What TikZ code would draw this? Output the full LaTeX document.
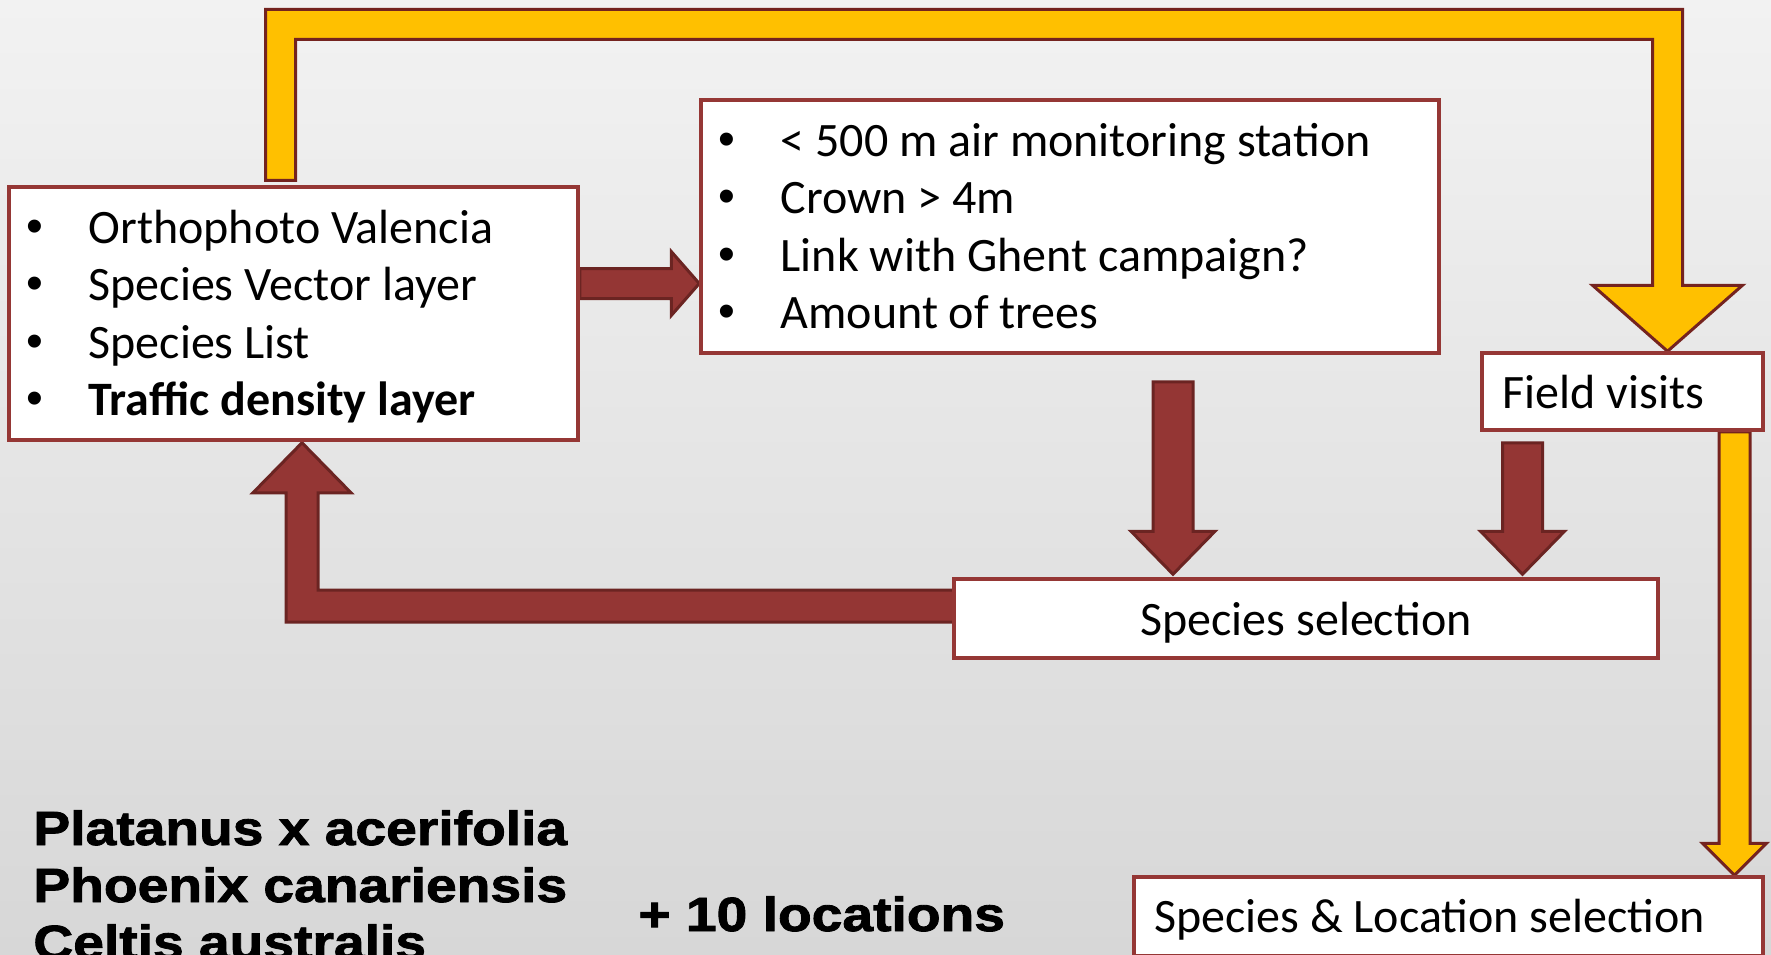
\documentclass[tikz,border=0pt]{standalone}
\usepackage{fontspec}
\setmainfont{Carlito}
\newfontfamily\heavyfont[FakeBold=1.8,FakeStretch=1.15]{Liberation Sans}
\newfontfamily\bulletfont{Liberation Sans}
\usetikzlibrary{calc}

\definecolor{boxred}{HTML}{953735}
\definecolor{arrowred}{HTML}{943634}
\definecolor{arrowedge}{HTML}{6B2422}
\definecolor{gold}{HTML}{FFC000}
\definecolor{goldedge}{HTML}{74231F}
\definecolor{bgtop}{HTML}{F2F2F2}
\definecolor{bgbottom}{HTML}{D7D7D7}

\pgfdeclarelayer{backdrop}
\pgfdeclarelayer{arrows}
\pgfsetlayers{backdrop,arrows,main}

\tikzset{
  stepbox/.style={draw=boxred, line width=1.75pt, fill=white, inner sep=0pt},
  item/.style={anchor=base west, inner sep=0pt, font=\fontsize{24}{28}\selectfont},
  label/.style={anchor=base, inner sep=0pt, font=\fontsize{24}{28}\selectfont},
  dot/.style={anchor=base, inner sep=0pt, font=\bulletfont\fontsize{24}{28}\selectfont},
  redblock/.style={fill=arrowred, draw=arrowedge, line width=1.5pt},
  goldblock/.style={fill=gold, draw=goldedge, line width=1.5pt},
  species/.style={anchor=base west, inner sep=0pt, font=\heavyfont\bfseries\fontsize{24}{28}\selectfont}
}

\begin{document}
\begin{tikzpicture}[x=0.5pt, y=-0.5pt]
        \useasboundingbox (0,0) rectangle (1771,954);
        \begin{pgfonlayer}{backdrop}
            \shade[top color=bgtop, bottom color=bgbottom] (0,0) rectangle (1771,954);
        \end{pgfonlayer}

        % Boxes
        \node[stepbox, minimum width=284.5pt, minimum height=126.5pt] (src) at (293.5,313.5) {};
        \node[stepbox, minimum width=369pt, minimum height=126.5pt] (crit) at (1070,226.5) {};
        \node[stepbox, minimum width=140.5pt, minimum height=38.5pt] (visits) at (1622.5,391.5) {};
        \node[stepbox, minimum width=352pt, minimum height=39.5pt] (sel) at (1306,618.5) {};
        \node[stepbox, minimum width=314.5pt, minimum height=39.5pt] (loc) at (1448.5,916.5) {};

        % Bullet lists
        \foreach \txt [count=\i] in {Orthophoto Valencia, Species Vector layer, Species List, \textbf{Traffic density layer}} {
            \node[dot] (srcdot\i) at ($(src.north west)+(28,57+57.5*\i-57.5)$) {\textbullet};
            \node[item] (srcitem\i) at ($(src.north west)+(81,58+57.5*\i-57.5)$) {\txt};
        };
        \foreach \txt [count=\i] in {< 500 m air monitoring station, Crown > 4m, Link with Ghent campaign?, Amount of trees} {
            \node[dot] (critdot\i) at ($(crit.north west)+(28,57+57.5*\i-57.5)$) {\textbullet};
            \node[item] (crititem\i) at ($(crit.north west)+(81,58+57.5*\i-57.5)$) {\txt};
        };

        % Single labels
        \node[item] (visitstext) at ($(visits.north west)+(22,57)$) {Field visits};
        \node[label] (seltext) at ($(sel.north)+(0,58)$) {Species selection};
        \node[item] (loctext) at ($(loc.north west)+(21.5,57)$) {Species \& Location selection};

        % Species list bottom left
        \node[species] (plat) at (33,845) {Platanus x acerifolia};
        \node[species] (phoe) at (33,902) {Phoenix canariensis};
        \node[species] (celt) at (33,959) {Celtis australis};
        \node[species] (more) at (638,931) {+ 10 locations};

        \begin{pgfonlayer}{arrows}
        % Red arrow src -> crit
        \coordinate (ab1) at ($(src.east)+(0,-30)$);
        \coordinate (ab2) at (crit.west |- ab1);
        \draw[redblock] ($(ab1)+(0,-15)$) -- ($(ab2)+(-28,-15)$) -- ($(ab2)+(-28,-32)$) -- (ab2)
            -- ($(ab2)+(-28,32)$) -- ($(ab2)+(-28,15)$) -- ($(ab1)+(0,15)$) -- cycle;

        % Red arrows down to selection
        \coordinate (cs1) at ($(crit.south)+(103,27)$);
        \coordinate (cs2) at ($(cs1 |- sel.north)+(0,-3)$);
        \draw[redblock] ($(cs1)+(-20,0)$) -- ($(cs2)+(-20,-43)$) -- ($(cs2)+(-42,-43)$) -- (cs2)
            -- ($(cs2)+(42,-43)$) -- ($(cs2)+(20,-43)$) -- ($(cs1)+(20,0)$) -- cycle;
        \coordinate (vs1) at ($(visits.south)+(-100,11)$);
        \coordinate (vs2) at ($(vs1 |- sel.north)+(0,-3)$);
        \draw[redblock] ($(vs1)+(-20,0)$) -- ($(vs2)+(-20,-43)$) -- ($(vs2)+(-42,-43)$) -- (vs2)
            -- ($(vs2)+(42,-43)$) -- ($(vs2)+(20,-43)$) -- ($(vs1)+(20,0)$) -- cycle;

        % Red bent arrow sel -> src
        \coordinate (sl1) at ($(sel.west)+(4,-12.5)$);
        \coordinate (sl3) at ($(src.south)+(8.5,1)$);
        \coordinate (sl2) at (sl3 |- sl1);
        \draw[redblock] ($(sl1)+(0,-16)$) -- ($(sl2)+(16,-16)$) -- ($(sl3)+(16,50)$) -- ($(sl3)+(49,50)$) -- (sl3)
            -- ($(sl3)+(-49,50)$) -- ($(sl3)+(-16,50)$) -- ($(sl2)+(-16,16)$) -- ($(sl1)+(0,16)$) -- cycle;

        % Yellow bent arrow src -> visits
        \coordinate (ys1) at ($(src.north)+(-13,-5)$);
        \coordinate (ys2) at ($(ys1)+(0,-156)$);
        \coordinate (yv) at ($(visits.north)+(45,0)$);
        \coordinate (ys3) at (yv |- ys2);
        \draw[goldblock] ($(ys1)+(-15,0)$) -- ($(ys2)+(-15,-15)$) -- ($(ys3)+(15,-15)$) -- ($(yv)+(15,-66)$)
            -- ($(yv)+(75,-66)$) -- (yv) -- ($(yv)+(-75,-66)$) -- ($(yv)+(-15,-66)$)
            -- ($(ys3)+(-15,15)$) -- ($(ys2)+(15,15)$) -- ($(ys1)+(15,0)$) -- cycle;

        % Yellow arrow visits -> loc
        \coordinate (yl1) at ($(visits.south)+(112,0)$);
        \coordinate (yl2) at (yl1 |- loc.north);
        \draw[goldblock] ($(yl1)+(-15.5,0)$) -- ($(yl2)+(-15.5,-32)$) -- ($(yl2)+(-32,-32)$) -- (yl2)
            -- ($(yl2)+(32,-32)$) -- ($(yl2)+(15.5,-32)$) -- ($(yl1)+(15.5,0)$) -- cycle;
        \end{pgfonlayer}
    \end{tikzpicture}
\end{document}
